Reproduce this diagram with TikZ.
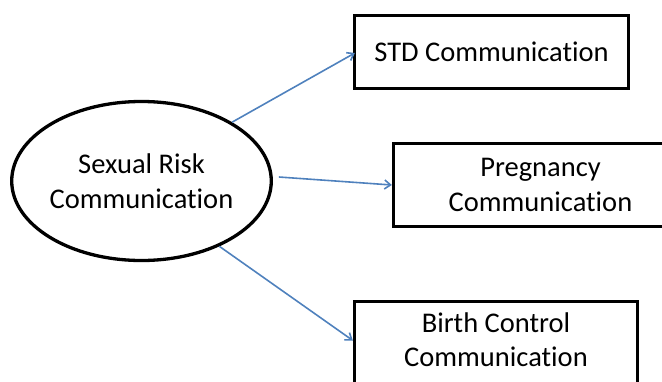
\documentclass[tikz,border=0pt]{standalone}
\usepackage{fontspec}
\setmainfont{Carlito}[Ligatures=NoCommon]
\usetikzlibrary{shapes.geometric,arrows.meta}
\definecolor{linkblue}{RGB}{79,129,189}
\tikzset{
  label font/.style={font=\fontsize{28.5}{34.5}\selectfont, align=center},
  outline/.style={draw=black, line width=3.3pt, inner sep=0pt},
  topicbox/.style={outline, rectangle, label font},
  centre/.style={outline, ellipse, label font},
  link/.style={draw=linkblue, line width=1.6pt, -{Straight Barb[length=6pt,width=9pt]}}
}
\begin{document}
\begin{tikzpicture}[x=1pt, y=-1pt]
  \useasboundingbox (0,0) rectangle (662,381);
  \clip (0,0) rectangle (662,381);

  % central construct
  \node[centre, minimum width=256pt, minimum height=159pt] (risk) at (141.5,181)
    {Sexual Risk\\Communication};

  % outcome boxes
  \node[topicbox, minimum width=274pt, minimum height=73pt] (std) at (491.5,52)
    {STD Communication};
  \node[topicbox, minimum width=294pt, minimum height=83pt] (preg) at (540.5,185)
    {Pregnancy\\Communication};
  \node[outline, rectangle, minimum width=283pt, minimum height=100pt, anchor=north]
    (birth) at (496,299.5) {};
  \node[label font] (birthtext) at ([yshift=-40pt]birth.north)
    {Birth Control\\Communication};

  % links
  \draw[link] (risk.33) -- ([xshift=2pt,yshift=-1pt]std.west);
  \draw[link] ([xshift=6pt,yshift=4pt]risk.east) -- (preg.west);
  \draw[link] (risk.-40) -- ([yshift=-41pt]birth.north west);
\end{tikzpicture}
\end{document}
